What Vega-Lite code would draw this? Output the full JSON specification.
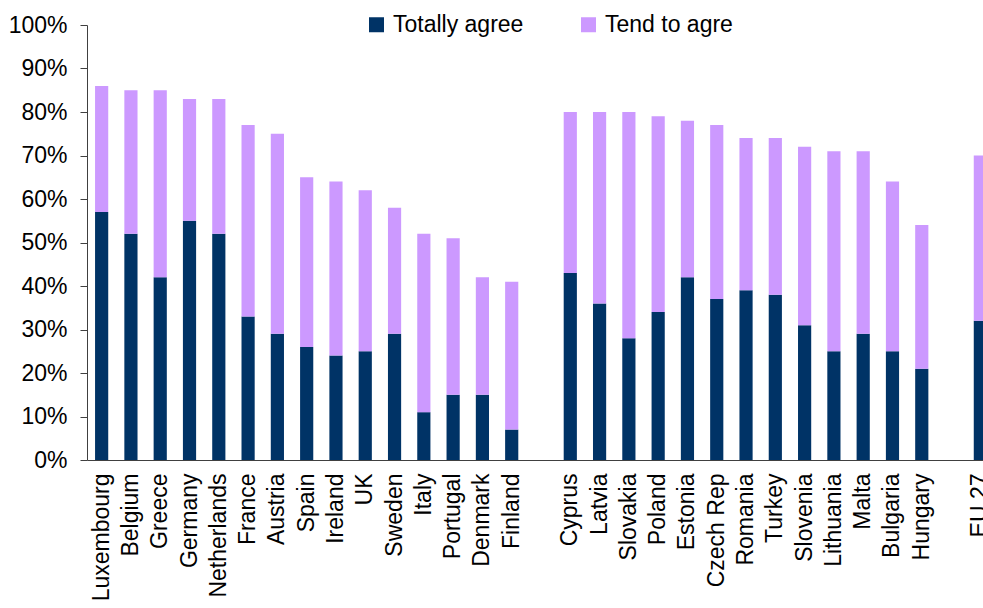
{
  "$schema": "https://vega.github.io/schema/vega-lite/v6.json",
  "autosize": "none",
  "width": 896,
  "height": 435,
  "padding": {"left": 87, "top": 25, "right": 0, "bottom": 148},
  "background": "white",
  "config": {
    "view": {"stroke": null},
    "font": "Liberation Sans",
    "axis": {"labelFont": "Liberation Sans", "labelFontSize": 23, "labelColor": "#000000", "domainColor": "#404040", "tickColor": "#404040", "grid": false, "title": null}
  },
  "data": {
    "values": [
      {"country": "Luxembourg", "type": "Totally agree", "value": 0.57},
      {"country": "Luxembourg", "type": "Tend to agre", "value": 0.29},
      {"country": "Belgium", "type": "Totally agree", "value": 0.52},
      {"country": "Belgium", "type": "Tend to agre", "value": 0.33},
      {"country": "Greece", "type": "Totally agree", "value": 0.42},
      {"country": "Greece", "type": "Tend to agre", "value": 0.43},
      {"country": "Germany", "type": "Totally agree", "value": 0.55},
      {"country": "Germany", "type": "Tend to agre", "value": 0.28},
      {"country": "Netherlands", "type": "Totally agree", "value": 0.52},
      {"country": "Netherlands", "type": "Tend to agre", "value": 0.31},
      {"country": "France", "type": "Totally agree", "value": 0.33},
      {"country": "France", "type": "Tend to agre", "value": 0.44},
      {"country": "Austria", "type": "Totally agree", "value": 0.29},
      {"country": "Austria", "type": "Tend to agre", "value": 0.46},
      {"country": "Spain", "type": "Totally agree", "value": 0.26},
      {"country": "Spain", "type": "Tend to agre", "value": 0.39},
      {"country": "Ireland", "type": "Totally agree", "value": 0.24},
      {"country": "Ireland", "type": "Tend to agre", "value": 0.40},
      {"country": "UK", "type": "Totally agree", "value": 0.25},
      {"country": "UK", "type": "Tend to agre", "value": 0.37},
      {"country": "Sweden", "type": "Totally agree", "value": 0.29},
      {"country": "Sweden", "type": "Tend to agre", "value": 0.29},
      {"country": "Italy", "type": "Totally agree", "value": 0.11},
      {"country": "Italy", "type": "Tend to agre", "value": 0.41},
      {"country": "Portugal", "type": "Totally agree", "value": 0.15},
      {"country": "Portugal", "type": "Tend to agre", "value": 0.36},
      {"country": "Denmark", "type": "Totally agree", "value": 0.15},
      {"country": "Denmark", "type": "Tend to agre", "value": 0.27},
      {"country": "Finland", "type": "Totally agree", "value": 0.07},
      {"country": "Finland", "type": "Tend to agre", "value": 0.34},
      {"country": "Cyprus", "type": "Totally agree", "value": 0.43},
      {"country": "Cyprus", "type": "Tend to agre", "value": 0.37},
      {"country": "Latvia", "type": "Totally agree", "value": 0.36},
      {"country": "Latvia", "type": "Tend to agre", "value": 0.44},
      {"country": "Slovakia", "type": "Totally agree", "value": 0.28},
      {"country": "Slovakia", "type": "Tend to agre", "value": 0.52},
      {"country": "Poland", "type": "Totally agree", "value": 0.34},
      {"country": "Poland", "type": "Tend to agre", "value": 0.45},
      {"country": "Estonia", "type": "Totally agree", "value": 0.42},
      {"country": "Estonia", "type": "Tend to agre", "value": 0.36},
      {"country": "Czech Rep", "type": "Totally agree", "value": 0.37},
      {"country": "Czech Rep", "type": "Tend to agre", "value": 0.40},
      {"country": "Romania", "type": "Totally agree", "value": 0.39},
      {"country": "Romania", "type": "Tend to agre", "value": 0.35},
      {"country": "Turkey", "type": "Totally agree", "value": 0.38},
      {"country": "Turkey", "type": "Tend to agre", "value": 0.36},
      {"country": "Slovenia", "type": "Totally agree", "value": 0.31},
      {"country": "Slovenia", "type": "Tend to agre", "value": 0.41},
      {"country": "Lithuania", "type": "Totally agree", "value": 0.25},
      {"country": "Lithuania", "type": "Tend to agre", "value": 0.46},
      {"country": "Malta", "type": "Totally agree", "value": 0.29},
      {"country": "Malta", "type": "Tend to agre", "value": 0.42},
      {"country": "Bulgaria", "type": "Totally agree", "value": 0.25},
      {"country": "Bulgaria", "type": "Tend to agre", "value": 0.39},
      {"country": "Hungary", "type": "Totally agree", "value": 0.21},
      {"country": "Hungary", "type": "Tend to agre", "value": 0.33},
      {"country": "EU 27", "type": "Totally agree", "value": 0.32},
      {"country": "EU 27", "type": "Tend to agre", "value": 0.38}
    ]
  },
  "mark": {"type": "bar"},
  "encoding": {
    "x": {
      "field": "country",
      "type": "nominal",
      "scale": {
        "domain": ["Luxembourg", "Belgium", "Greece", "Germany", "Netherlands", "France", "Austria", "Spain", "Ireland", "UK", "Sweden", "Italy", "Portugal", "Denmark", "Finland", " ", "Cyprus", "Latvia", "Slovakia", "Poland", "Estonia", "Czech Rep", "Romania", "Turkey", "Slovenia", "Lithuania", "Malta", "Bulgaria", "Hungary", "  ", "EU 27"],
        "range": [0, 908],
        "paddingInner": 0.55,
        "paddingOuter": 0.275
      },
      "axis": {"labelAngle": -90, "ticks": false, "labelPadding": 13, "labelAlign": "right", "labelBaseline": "middle", "labelLimit": 300}
    },
    "y": {
      "field": "value",
      "type": "quantitative",
      "stack": "zero",
      "scale": {"domain": [0, 1], "nice": false},
      "axis": {"values": [0, 0.1, 0.2, 0.3, 0.4, 0.5, 0.6, 0.7, 0.8, 0.9, 1], "format": ".0%", "tickSize": 7, "labelPadding": 13}
    },
    "color": {
      "field": "type",
      "type": "nominal",
      "scale": {"domain": ["Totally agree", "Tend to agre"], "range": ["#003366", "#CC99FF"]},
      "legend": {
        "title": null,
        "orient": "none",
        "direction": "horizontal",
        "legendX": 278,
        "legendY": -12,
        "symbolType": "square",
        "symbolSize": 225,
        "symbolStrokeWidth": 0,
        "symbolOpacity": 1,
        "labelFont": "Liberation Sans",
        "labelFontSize": 23,
        "labelColor": "#000000",
        "labelOffset": 5,
        "columnPadding": 53,
        "padding": 0
      }
    },
    "order": {"field": "type", "sort": "descending"}
  }
}
